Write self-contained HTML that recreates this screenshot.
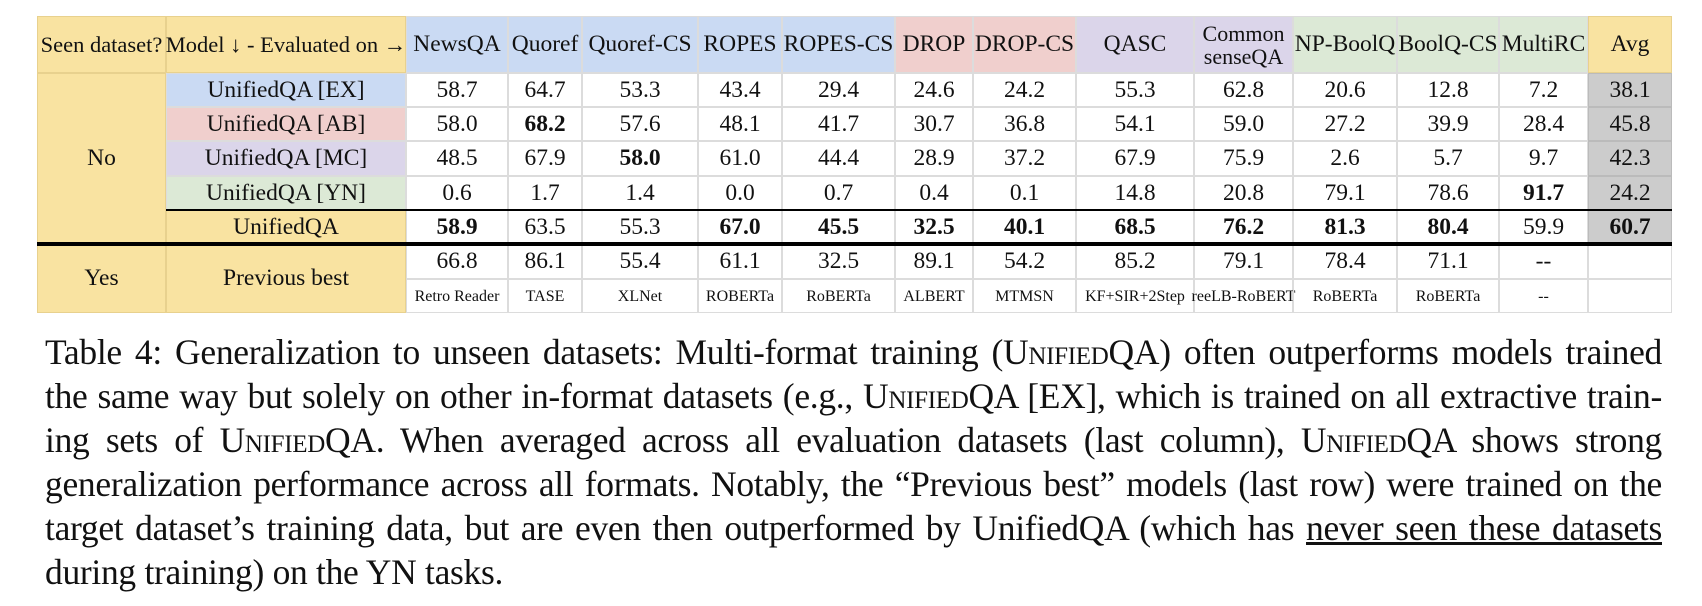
<!DOCTYPE html>
<html><head><meta charset="utf-8"><style>
body{margin:0;width:1702px;height:606px;background:#fff;position:relative;overflow:hidden;font-family:"Liberation Serif",serif;color:#111}
.c{position:absolute;box-sizing:border-box;display:flex;align-items:center;justify-content:center;white-space:nowrap;font-size:23.5px;border:1px solid #dcdcdc;text-align:center;line-height:25px;overflow:visible}
.cap{position:absolute;left:45px;width:1617px;font-size:35.5px;line-height:44px;top:330px;letter-spacing:-0.3px}
.cap div{text-align:justify;text-align-last:justify;height:44px;white-space:nowrap}
.cap div.last{text-align-last:left}
.sc{font-variant:small-caps}
</style></head><body>
<div id="tbl"></div>
<div class="cap">
<div>Table 4: Generalization to unseen datasets: Multi-format training (<span class="sc">Unified</span>QA) often outperforms models trained</div>
<div>the same way but solely on other in-format datasets (e.g., <span class="sc">Unified</span>QA [EX], which is trained on all extractive train-</div>
<div>ing sets of <span class="sc">Unified</span>QA. When averaged across all evaluation datasets (last column), <span class="sc">Unified</span>QA shows strong</div>
<div>generalization performance across all formats. Notably, the “Previous best” models (last row) were trained on the</div>
<div>target dataset’s training data, but are even then outperformed by UnifiedQA (which has <u>never seen these datasets</u></div>
<div class="last">during training) on the YN tasks.</div>
</div>
<script>
const colX=[37,166,406,508,582,698,782,895,973,1076,1194,1293,1397,1499,1588,1672];
const rowY=[16,73,107,141,176,210,244,279,313];
const headers=["NewsQA","Quoref","Quoref-CS","ROPES","ROPES-CS","DROP","DROP-CS","QASC","Common<br>senseQA","NP-BoolQ","BoolQ-CS","MultiRC","Avg"];
const Y="#f9e3a1",B="#cadaf3",R="#f0cfcd",P="#dbd5ea",G="#dce9d6",GR="#cccccc";
const headerColors=[B,B,B,B,B,R,R,P,P,G,G,G,Y];
const models=["UnifiedQA [EX]","UnifiedQA [AB]","UnifiedQA [MC]","UnifiedQA [YN]","UnifiedQA"];
const modelColors=[B,R,P,G,Y];
const values=[
["58.7","64.7","53.3","43.4","29.4","24.6","24.2","55.3","62.8","20.6","12.8","7.2","38.1"],
["58.0","68.2","57.6","48.1","41.7","30.7","36.8","54.1","59.0","27.2","39.9","28.4","45.8"],
["48.5","67.9","58.0","61.0","44.4","28.9","37.2","67.9","75.9","2.6","5.7","9.7","42.3"],
["0.6","1.7","1.4","0.0","0.7","0.4","0.1","14.8","20.8","79.1","78.6","91.7","24.2"],
["58.9","63.5","55.3","67.0","45.5","32.5","40.1","68.5","76.2","81.3","80.4","59.9","60.7"]];
const bold=[[],[1],[2],[11],[0,3,4,5,6,7,8,9,10,12]];
const prevBest=["66.8","86.1","55.4","61.1","32.5","89.1","54.2","85.2","79.1","78.4","71.1","--",""];
const prevModels=["Retro Reader","TASE","XLNet","ROBERTa","RoBERTa","ALBERT","MTMSN","KF+SIR+2Step","reeLB-RoBERT","RoBERTa","RoBERTa","--",""];
const T=document.getElementById('tbl');
function cell(c0,c1,r0,r1,html,bg,name,extra){
 const d=document.createElement('div');d.className='c';
 d.style.left=colX[c0]+'px';d.style.width=(colX[c1]-colX[c0])+'px';
 d.style.top=rowY[r0]+'px';d.style.height=(rowY[r1]-rowY[r0])+'px';
 if(bg){d.style.background=bg;if(bg===Y)d.style.borderColor='#e8d18e';}
 d.innerHTML=html;if(extra)Object.assign(d.style,extra);
 
 
 T.appendChild(d);return d;}
cell(0,1,0,1,"Seen dataset?",Y,"seen-dataset-header",{fontSize:'22.5px'});
cell(1,2,0,1,"Model ↓ - Evaluated on →",Y,"model-header",{fontSize:'22.5px'});
headers.forEach((h,i)=>cell(i+2,i+3,0,1,h,headerColors[i],"header-"+i,i===8?{fontSize:'22px',lineHeight:'23px'}:null));
cell(0,1,1,6,"No",Y,"no-label");
models.forEach((m,r)=>{
 cell(1,2,r+1,r+2,m,modelColors[r],"model-"+r);
 values[r].forEach((v,i)=>{const b=bold[r].includes(i);
  cell(i+2,i+3,r+1,r+2,b?"<b>"+v+"</b>":v,i===12?GR:null,"value-"+r+"-"+i,i===12?{borderColor:'#bbb'}:null);});
});
cell(0,1,6,8,"Yes",Y,"yes-label");
cell(1,2,6,8,"Previous best",Y,"previous-best-label");
prevBest.forEach((v,i)=>cell(i+2,i+3,6,7,v,null,"prev-best-"+i));
prevModels.forEach((v,i)=>cell(i+2,i+3,7,8,v,null,"prev-model-"+i,{fontSize:'16px'}));
function line(x0,x1,y,h,name){const d=document.createElement('div');
 d.style.cssText='position:absolute;background:#000;left:'+x0+'px;width:'+(x1-x0)+'px;top:'+y+'px;height:'+h+'px';
 
 
 T.appendChild(d);}
line(colX[1],colX[15],rowY[5]-1,2,"unifiedqa-separator");
line(colX[0],colX[15],rowY[6]-2,4,"seen-separator");
</script>
</body></html>
